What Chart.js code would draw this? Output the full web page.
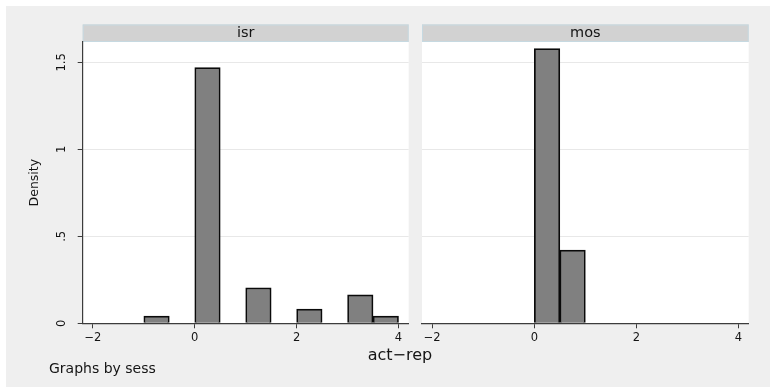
<!DOCTYPE html>
<html>
<head>
<meta charset="utf-8">
<script src="https://cdn.jsdelivr.net/npm/chart.js@4"></script>
<style>
  html, body { margin: 0; padding: 0; background: #ffffff; }
  #frame { position: relative; width: 770px; height: 388px; overflow: hidden; background: #ffffff; }
  #bg { position: absolute; left: 6px; top: 6px; right: 0; bottom: 1px; background: #efefef; }
  .panel { position: absolute; top: 0; height: 388px; }
  #p0 { left: 0; width: 420px; }
  #p1 { left: 415px; width: 355px; }
  .txt { position: absolute; font-family: "DejaVu Sans", sans-serif; color: #141414; white-space: nowrap; line-height: 20px; }
  #xtitle { left: 300px; width: 200px; text-align: center; top: 345px; font-size: 16px; }
  #note { left: 49px; top: 358px; font-size: 14px; }
</style>
</head>
<body>
<div id="frame">
  <div id="bg"></div>
  <div class="panel" id="p0"><canvas id="c0"></canvas></div>
  <div class="panel" id="p1"><canvas id="c1"></canvas></div>
  <div class="txt" id="xtitle">act−rep</div>
  <div class="txt" id="note">Graphs by sess</div>
</div>
<script>
// Histogram of act−rep by session, density scale, bin width 0.5
const panelNames = ['isr', 'mos'];
const binWidth = 0.5;
const isrBinStarts = [-1, 0, 1, 2, 3, 3.5];
const isrDensity = [0.0408, 1.4694, 0.2041, 0.0816, 0.1633, 0.0408];
const mosBinStarts = [0, 0.5];
const mosDensity = [1.5789, 0.4211];
const xTicks = [-2, 0, 2, 4];
const yTicks = [0, 0.5, 1, 1.5];
const yTickLabels = ['0', '.5', '1', '1.5'];
const yTitle = 'Density';

const FONT = '"DejaVu Sans", sans-serif';
const AXIS = '#3c3c3c';
const TEXT = '#141414';

function bins(starts, dens) {
  return starts.map((s, i) => ({ x: s + binWidth / 2, y: dens[i] }));
}

function fmtX(v) {
  return v < 0 ? '\u2212' + Math.abs(v) : String(v);
}

// White plot region plus the grey strip with the panel name
const panelDecor = {
  id: 'panelDecor',
  beforeDraw(chart, args, opts) {
    const { ctx, chartArea: a } = chart;
    ctx.save();
    ctx.fillStyle = '#ffffff';
    ctx.fillRect(a.left, a.top, a.right - a.left, a.bottom - a.top);
    const sh = 17.5;
    ctx.fillStyle = '#d2d2d2';
    ctx.fillRect(a.left, a.top - sh, a.right - a.left, sh);
    ctx.strokeStyle = '#c6d9e1';
    ctx.lineWidth = 1;
    ctx.strokeRect(a.left + 0.5, a.top - sh + 0.5, a.right - a.left - 1, sh - 1);
    ctx.fillStyle = TEXT;
    ctx.font = '14.5px ' + FONT;
    ctx.textAlign = 'center';
    ctx.textBaseline = 'middle';
    ctx.fillText(opts.name, (a.left + a.right) / 2, a.top - sh / 2);
    ctx.restore();
  }
};

// Vertical y tick labels and the y title, placed from the y scale
const yLabels = {
  id: 'yLabels',
  afterDraw(chart, args, opts) {
    if (!opts.show) return;
    const { ctx, chartArea: a } = chart;
    const ys = chart.scales.y;
    ctx.save();
    ctx.fillStyle = TEXT;
    ctx.font = '11.5px ' + FONT;
    ctx.textAlign = 'center';
    ctx.textBaseline = 'alphabetic';
    ys.ticks.forEach(t => {
      const py = ys.getPixelForValue(t.value);
      ctx.save();
      ctx.translate(a.left - 17.5, py);
      ctx.rotate(-Math.PI / 2);
      ctx.fillText(t.label, 0, 0);
      ctx.restore();
    });
    ctx.font = '12.5px ' + FONT;
    ctx.textBaseline = 'middle';
    ctx.translate(35, (a.top + a.bottom) / 2);
    ctx.rotate(-Math.PI / 2);
    ctx.fillText(yTitle, 0, 0);
    ctx.restore();
  }
};

function makeChart(id, name, starts, dens, showY, padding) {
  return new Chart(document.getElementById(id), {
    type: 'bar',
    data: {
      datasets: [{
        data: bins(starts, dens),
        backgroundColor: '#808080',
        borderColor: '#0a0a0a',
        borderWidth: 1.7,
        borderSkipped: 'bottom',
        barPercentage: 1,
        categoryPercentage: 1
      }]
    },
    options: {
      responsive: true,
      maintainAspectRatio: false,
      animation: false,
      events: [],
      layout: { padding },
      plugins: {
        legend: { display: false },
        tooltip: { enabled: false },
        panelDecor: { name },
        yLabels: { show: showY }
      },
      scales: {
        x: {
          type: 'linear',
          min: -2.2,
          max: 4.2,
          offset: false,
          afterBuildTicks: s => { s.ticks = xTicks.map(v => ({ value: v })); },
          afterFit: s => { s.height = 30; },
          ticks: {
            callback: v => fmtX(v),
            font: { family: FONT, size: 11.5 },
            color: TEXT,
            padding: 3,
            maxRotation: 0,
            autoSkip: false
          },
          grid: { offset: false, drawOnChartArea: false, drawTicks: true, tickLength: 5, tickColor: AXIS },
          border: { display: true, color: AXIS, width: 1.2 }
        },
        y: {
          type: 'linear',
          min: 0,
          max: 1.617,
          afterBuildTicks: s => { s.ticks = yTicks.map(v => ({ value: v })); },
          afterFit: s => { s.width = showY ? 30 : 0; },
          ticks: {
            display: false,
            callback: (v, i) => yTickLabels[yTicks.indexOf(v)]
          },
          grid: {
            color: '#e8e8e8',
            lineWidth: 1,
            drawTicks: showY,
            tickLength: 5,
            tickColor: AXIS
          },
          border: { display: showY, color: AXIS, width: 1.2 }
        }
      }
    },
    plugins: [panelDecor, yLabels]
  });
}

makeChart('c0', panelNames[0], isrBinStarts, isrDensity, true,
  { left: 52.7, right: 11.3, top: 42, bottom: 34.7 });
makeChart('c1', panelNames[1], mosBinStarts, mosDensity, false,
  { left: 7, right: 21.3, top: 42, bottom: 34.7 });
</script>
</body>
</html>
